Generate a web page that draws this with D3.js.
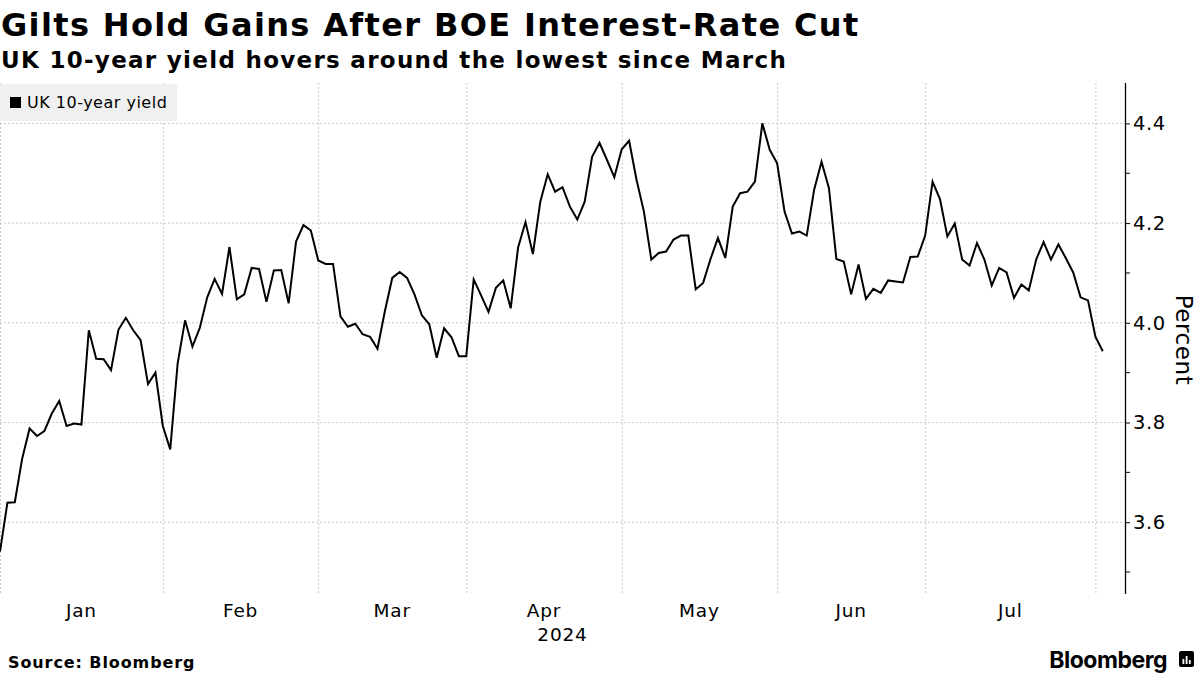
<!DOCTYPE html>
<html lang="en">
<head>
  <meta charset="utf-8">
  <title>Gilts Hold Gains After BOE Interest-Rate Cut</title>
  <script src="https://d3js.org/d3.v7.min.js"></script>
  <style>
    * { box-sizing: border-box; margin: 0; padding: 0; }
    html, body { width: 1200px; height: 675px; background: #fff; overflow: hidden; }
    body { font-family: "DejaVu Sans", sans-serif; }
    #chart { display: block; }
    .grid line { stroke: #c8c8c8; stroke-dasharray: 2 2; stroke-width: 1; }
  </style>
</head>
<body>
  <svg id="chart" width="1200" height="675"></svg>

  <script>
  // UK 10-year gilt yield, one value per UK trading day, 2 Jan - 2 Aug 2024
  const months      = ["Jan", "Feb", "Mar", "Apr", "May", "Jun", "Jul"];
  const tradingDays = [22, 21, 20, 21, 21, 20, 23];   // sessions in each month
  const yearLabel   = "2024";
  const yTicks      = [3.6, 3.8, 4.0, 4.2, 4.4];
  const yMinor      = [3.5, 3.7, 3.9, 4.1, 4.3];

  const yields = [
    3.541, 3.639, 3.640, 3.728, 3.788, 3.773, 3.783, 3.818, 3.843, 3.793,
    3.798, 3.796, 3.985, 3.928, 3.927, 3.905, 3.986, 4.010, 3.985, 3.965,
    3.877, 3.900, 3.793, 3.746, 3.918, 4.005, 3.952, 3.990, 4.051, 4.088,
    4.058, 4.152, 4.047, 4.057, 4.110, 4.108, 4.042, 4.105, 4.106, 4.039,
    4.163, 4.196, 4.185, 4.125, 4.118, 4.118, 4.013, 3.992, 3.998, 3.977,
    3.972, 3.948, 4.023, 4.090, 4.102, 4.090, 4.057, 4.015, 3.997, 3.930,
    3.989, 3.971, 3.933, 3.933, 4.087, 4.055, 4.022, 4.070, 4.085, 4.029,
    4.151, 4.202, 4.138, 4.243, 4.298, 4.263, 4.272, 4.233, 4.207, 4.243,
    4.333, 4.361, 4.327, 4.292, 4.348, 4.365, 4.287, 4.223, 4.127, 4.140,
    4.143, 4.167, 4.175, 4.175, 4.067, 4.080, 4.128, 4.170, 4.130, 4.233,
    4.260, 4.263, 4.283, 4.400, 4.347, 4.320, 4.223, 4.179, 4.183, 4.175,
    4.267, 4.323, 4.270, 4.128, 4.123, 4.057, 4.117, 4.048, 4.068, 4.060,
    4.085, 4.083, 4.081, 4.132, 4.133, 4.175, 4.283, 4.248, 4.173, 4.199,
    4.127, 4.115, 4.160, 4.127, 4.075, 4.110, 4.101, 4.050, 4.077, 4.065,
    4.127, 4.162, 4.127, 4.157, 4.130, 4.101, 4.051, 4.045, 3.972, 3.943
  ];

  const svg = d3.select("#chart");
  const plot = { left: 0, right: 1125, top: 83, bottom: 594 };

  const x = d3.scaleLinear().domain([0, 152]).range([plot.left, plot.right]);
  const y = d3.scaleLinear().domain([3.456, 4.481]).range([plot.bottom, plot.top]);

  // month boundaries in trading-day index space
  const monthStarts = [0, ...d3.cumsum(tradingDays)];

  // titles
  svg.append("text").attr("x", 1).attr("y", 36)
    .attr("font-size", 32).attr("font-weight", "bold").attr("letter-spacing", 1.35)
    .attr("fill", "#000")
    .text("Gilts Hold Gains After BOE Interest-Rate Cut");
  svg.append("text").attr("x", 1).attr("y", 68)
    .attr("font-size", 23).attr("font-weight", "bold").attr("letter-spacing", 1.3)
    .attr("fill", "#000")
    .text("UK 10-year yield hovers around the lowest since March");

  // grid
  const grid = svg.append("g").attr("class", "grid");
  grid.selectAll("line.h").data(yTicks).join("line").attr("class", "h")
    .attr("x1", plot.left).attr("x2", plot.right)
    .attr("y1", d => y(d)).attr("y2", d => y(d));
  grid.selectAll("line.v").data(monthStarts).join("line").attr("class", "v")
    .attr("x1", d => x(d) + 0.5).attr("x2", d => x(d) + 0.5)
    .attr("y1", plot.top).attr("y2", plot.bottom);

  // legend
  const legend = svg.append("g");
  legend.append("rect").attr("x", 0).attr("y", 84).attr("width", 177).attr("height", 37)
    .attr("fill", "#f0f0f0");
  legend.append("rect").attr("x", 10).attr("y", 97).attr("width", 11).attr("height", 11)
    .attr("fill", "#000");
  legend.append("text").attr("x", 27).attr("y", 108)
    .attr("font-size", 16).attr("letter-spacing", 0.5).attr("fill", "#000")
    .text("UK 10-year yield");

  // right axis
  const yAxis = svg.append("g").attr("transform", `translate(${plot.right},0)`)
    .call(d3.axisRight(y).tickValues(yTicks).tickFormat(d3.format(".1f"))
      .tickSize(5).tickPadding(3));
  yAxis.select(".domain").attr("d", `M0.5,${plot.top}V${plot.bottom}`)
    .attr("stroke", "#000").attr("stroke-width", 1.3);
  yAxis.selectAll(".tick line").attr("stroke", "#000");
  yAxis.selectAll(".tick text").attr("font-size", 19.5).attr("fill", "#000")
    .attr("letter-spacing", 0.6).attr("font-family", "DejaVu Sans, sans-serif");
  yAxis.selectAll("line.minor").data(yMinor).join("line").attr("class", "minor")
    .attr("x1", 0).attr("x2", 5).attr("y1", d => y(d)).attr("y2", d => y(d))
    .attr("stroke", "#000");

  svg.append("text")
    .attr("transform", "translate(1176,340) rotate(90)")
    .attr("text-anchor", "middle").attr("font-size", 23).attr("letter-spacing", 0.6)
    .attr("fill", "#000")
    .text("Percent");

  // month labels
  svg.append("g").selectAll("text").data(months).join("text")
    .attr("x", (d, i) => x((monthStarts[i] + monthStarts[i + 1]) / 2))
    .attr("y", 617).attr("text-anchor", "middle")
    .attr("font-size", 18.5).attr("letter-spacing", 0.8).attr("fill", "#000").text(d => d);
  svg.append("text").attr("x", (plot.left + plot.right) / 2).attr("y", 641)
    .attr("text-anchor", "middle").attr("font-size", 18.5).attr("letter-spacing", 0.8)
    .attr("fill", "#000")
    .text(yearLabel);

  // line
  const line = d3.line().x((d, i) => x(i)).y(d => y(d));
  svg.append("path").datum(yields)
    .attr("fill", "none").attr("stroke", "#000").attr("stroke-width", 2)
    .attr("stroke-linejoin", "miter").attr("d", line);

  // footer
  svg.append("text").attr("x", 8).attr("y", 668)
    .attr("font-size", 16).attr("font-weight", "bold").attr("letter-spacing", 0.9)
    .attr("fill", "#000")
    .text("Source: Bloomberg");
  svg.append("text").attr("x", 1167).attr("y", 668).attr("text-anchor", "end")
    .attr("font-family", "Inter, sans-serif").attr("font-size", 23)
    .attr("font-weight", "bold").attr("letter-spacing", -0.5).attr("fill", "#000")
    .text("Bloomberg");
  const logo = svg.append("g").attr("transform", "translate(1179,651)");
  logo.append("rect").attr("width", 15).attr("height", 16).attr("rx", 2).attr("fill", "#000");
  logo.selectAll("rect.bar").data([5, 8, 4]).join("rect").attr("class", "bar")
    .attr("x", (d, i) => 3.5 + i * 3.2).attr("y", d => 13 - d)
    .attr("width", 1.8).attr("height", d => d).attr("fill", "#fff");
  </script>
</body>
</html>
